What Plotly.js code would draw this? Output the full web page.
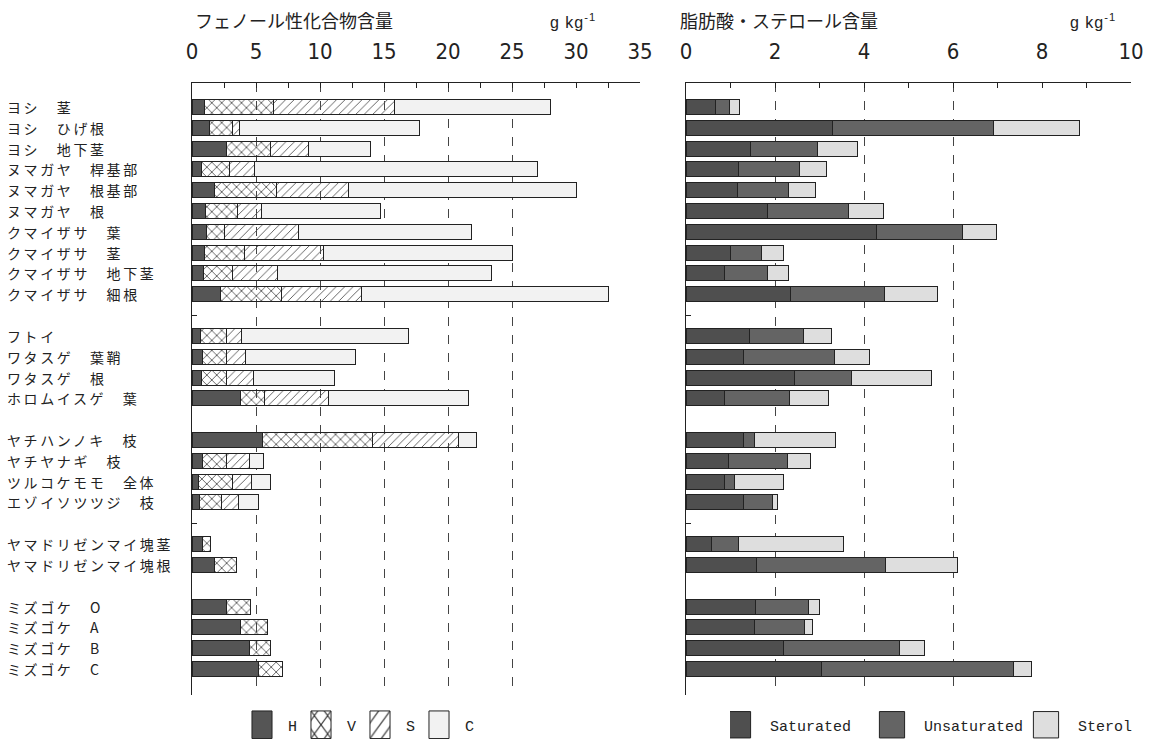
<!DOCTYPE html>
<html>
<head>
<meta charset="utf-8">
<script src="https://cdn.plot.ly/plotly-3.0.1.min.js"></script>
<style>
html,body{margin:0;padding:0;background:#fff;}
#chart{width:1152px;height:739px;}
text.annotation-text{letter-spacing:2.6px;}
text.annotation-text[data-unformatted*="量"]{letter-spacing:0;}
text.annotation-text[data-unformatted*="kg"]{letter-spacing:1px;}
.gridlayer path:last-child{display:none;}
g.legend .legendpoints path{transform:translate(14px,0) scale(1.67,2.3); vector-effect:non-scaling-stroke;}
g.legend2 .legendpoints path{transform:translate(8px,0) scale(2.1,2.2); vector-effect:non-scaling-stroke;}
</style>
</head>
<body>
<div id="chart"></div>
<script>
// ---- categories (groups separated by an empty slot) ----
const group1 = ["ヨシ　 茎","ヨシ　 ひげ根","ヨシ　 地下茎","ヌマガヤ　 桿基部","ヌマガヤ　 根基部","ヌマガヤ　 根","クマイザサ　 葉","クマイザサ　 茎","クマイザサ　 地下茎","クマイザサ　 細根"];
const group2 = ["フトイ","ワタスゲ　 葉鞘","ワタスゲ　 根","ホロムイスゲ　 葉"];
const group3 = ["ヤチハンノキ　 枝","ヤチヤナギ　 枝","ツルコケモモ　 全体","エゾイソツツジ　 枝"];
const group4 = ["ヤマドリゼンマイ塊茎","ヤマドリゼンマイ塊根"];
const group5 = ["ミズゴケ　 O","ミズゴケ　 A","ミズゴケ　 B","ミズゴケ　 C"];
const gaps = ["gap1","gap2","gap3","gap4"];
const tickedGaps = ["gap1","gap3"];

// ---- phenolic compounds (g kg-1), stacked segments ----
const phenolH = [0.94,1.35,2.70,0.75,1.75,1.07,1.15,1.00,0.90,2.20, 0.63,0.83,0.73,3.80, 5.47,0.80,0.50,0.55, 0.83,1.72, 2.73,3.77,4.48,5.20];
const phenolV = [5.41,1.85,3.45,2.15,4.85,2.47,1.35,3.14,2.30,4.80, 2.07,1.87,1.97,1.85, 8.63,1.90,2.70,1.75, 0.63,1.72, 1.82,2.13,1.69,1.90];
const phenolS = [9.45,0.50,2.95,2.00,5.65,1.90,5.80,6.16,3.47,6.25, 1.20,1.50,2.14,5.05, 6.70,1.80,1.46,1.30, null,null, null,null,null,null];
const phenolC = [12.20,14.10,4.85,22.10,17.75,9.26,13.50,14.70,16.73,19.25, 13.00,8.60,6.26,10.90, 1.40,1.07,1.44,1.60, null,null, null,null,null,null];

// ---- fatty acids and sterols (g kg-1), stacked segments ----
const saturated   = [0.66,3.30,1.45,1.18,1.16,1.84,4.28,1.00,0.87,2.35, 1.43,1.30,2.44,0.87, 1.29,0.96,0.87,1.29, 0.58,1.59, 1.57,1.53,2.20,3.05];
const unsaturated = [0.32,3.62,1.51,1.36,1.15,1.82,1.94,0.70,0.97,2.11, 1.21,2.03,1.28,1.45, 0.25,1.33,0.23,0.65, 0.60,2.89, 1.18,1.14,2.60,4.32];
const sterol      = [0.22,1.92,0.90,0.62,0.59,0.77,0.75,0.48,0.47,1.19, 0.62,0.79,1.79,0.89, 1.81,0.50,1.08,0.12, 2.35,1.63, 0.24,0.18,0.55,0.39];

// ---- axis ticks ----
const leftTicks = [0,5,10,15,20,25,30,35];
const rightTicks = [0,2,4,6,8,10];

const titleLeft = "フェノール性化合物含量";
const titleRight = "脂肪酸・ステロール含量";
const unitText = "g kg<sup>-1</sup>";

const categories = [].concat(group1, group2, group3, group4, group5);
const slotOrder = [].concat(group1,[gaps[0]],group2,[gaps[1]],group3,[gaps[2]],group4,[gaps[3]],group5);

const lineStyle = {color:'#222', width:1};
function barTrace(name, vals, xa, ya, marker, legend){
  return {type:'bar', orientation:'h', name:name, x:vals, y:categories,
    xaxis:xa, yaxis:ya, legend:legend, hoverinfo:'x+y+name',
    marker:Object.assign({line:lineStyle}, marker)};
}

const traces = [
  barTrace('H', phenolH, 'x', 'y', {color:'#555555'}, 'legend'),
  barTrace('V', phenolV, 'x', 'y', {color:'#ffffff', pattern:{shape:'x', fgcolor:'#333', size:7, solidity:0.2}}, 'legend'),
  barTrace('S', phenolS, 'x', 'y', {color:'#ffffff', pattern:{shape:'/', fgcolor:'#555', size:6, solidity:0.15}}, 'legend'),
  barTrace('C', phenolC, 'x', 'y', {color:'#f2f2f2'}, 'legend'),
  barTrace('Saturated', saturated, 'x2', 'y2', {color:'#4f4f4f'}, 'legend2'),
  barTrace('Unsaturated', unsaturated, 'x2', 'y2', {color:'#646464'}, 'legend2'),
  barTrace('Sterol', sterol, 'x2', 'y2', {color:'#dedede'}, 'legend2')
];

const W = 1152, H = 739;
const numFont = {family:'"Liberation Sans Narrow","DejaVu Sans Condensed",sans-serif', size:22, color:'#222'};
const yDomain = [1-695/H, 1-83/H];
const yRange = [slotOrder.length-1+1.25, -1.15];
const leftDomain = [192/W, 640/W];
const rightDomain = [686/W, 1131/W];

function xAxis(domain, range, ticks, minorStep, anchor){
  return {domain:domain, range:range, anchor:anchor, side:'top', fixedrange:true,
    tickmode:'array', tickvals:ticks, ticks:'inside', ticklen:5, tickwidth:1, tickcolor:'#222',
    minor:{tick0:0, dtick:minorStep, ticks:'inside', ticklen:5, tickwidth:1, tickcolor:'#222', showgrid:false},
    showline:true, linecolor:'#222', linewidth:1.5,
    showgrid:true, griddash:'dash', gridcolor:'#444', gridwidth:1,
    zeroline:false, tickfont:numFont, ticklabelstandoff:14};
}
function yAxis(anchor){
  return {domain:yDomain, type:'category', categoryorder:'array', categoryarray:slotOrder,
    range:yRange, anchor:anchor, fixedrange:true, showticklabels:false,
    tickmode:'array', tickvals:tickedGaps, ticks:'inside', ticklen:5, tickcolor:'#222',
    showline:true, linecolor:'#222', linewidth:1.5, showgrid:false, zeroline:false};
}

const annotations = categories.map(c => ({
  text:c.replace(/　 /,'　'), xref:'paper', yref:'y', x:5/W, y:slotOrder.indexOf(c),
  xanchor:'left', yanchor:'middle', showarrow:false,
  font:{family:'"Noto Sans CJK JP",sans-serif', size:14, color:'#222'}
}));
const titleFont = {family:'"Noto Sans CJK JP",sans-serif', size:18, color:'#222'};
const unitFont = {family:'"Liberation Sans","Noto Sans",sans-serif', size:16, color:'#222'};
annotations.push(
  {text:titleLeft, xref:'paper', yref:'paper', x:193/W, y:1-20/H, xanchor:'left', yanchor:'middle', showarrow:false, font:titleFont},
  {text:titleRight, xref:'paper', yref:'paper', x:678/W, y:1-20/H, xanchor:'left', yanchor:'middle', showarrow:false, font:titleFont},
  {text:unitText, xref:'paper', yref:'paper', x:548/W, y:1-21/H, xanchor:'left', yanchor:'middle', showarrow:false, font:unitFont},
  {text:unitText, xref:'paper', yref:'paper', x:1068/W, y:1-21/H, xanchor:'left', yanchor:'middle', showarrow:false, font:unitFont}
);

const legendFont = {family:'"Liberation Mono","DejaVu Sans Mono",monospace', size:15, color:'#222'};
const layout = {
  width:W, height:H, margin:{l:0,r:0,t:0,b:0,autoexpand:false},
  paper_bgcolor:'#ffffff', plot_bgcolor:'rgba(0,0,0,0)',
  barmode:'stack', bargap:0.28,
  xaxis: xAxis(leftDomain, [0,35], leftTicks, 2.5, 'y'),
  yaxis: yAxis('x'),
  xaxis2: xAxis(rightDomain, [0,10], rightTicks, 1, 'y2'),
  yaxis2: yAxis('x2'),
  showlegend:true,
  legend:{orientation:'h', x:248/W, y:1-725/H, xanchor:'left', yanchor:'middle', font:legendFont, bgcolor:'rgba(0,0,0,0)', traceorder:'normal', entrywidth:14, entrywidthmode:'pixels'},
  legend2:{orientation:'h', x:730/W, y:1-725/H, xanchor:'left', yanchor:'middle', font:legendFont, bgcolor:'rgba(0,0,0,0)', traceorder:'normal', entrywidth:109, entrywidthmode:'pixels'},
  annotations:annotations
};

Plotly.newPlot('chart', traces, layout, {displayModeBar:false, staticPlot:true});
</script>
</body>
</html>
